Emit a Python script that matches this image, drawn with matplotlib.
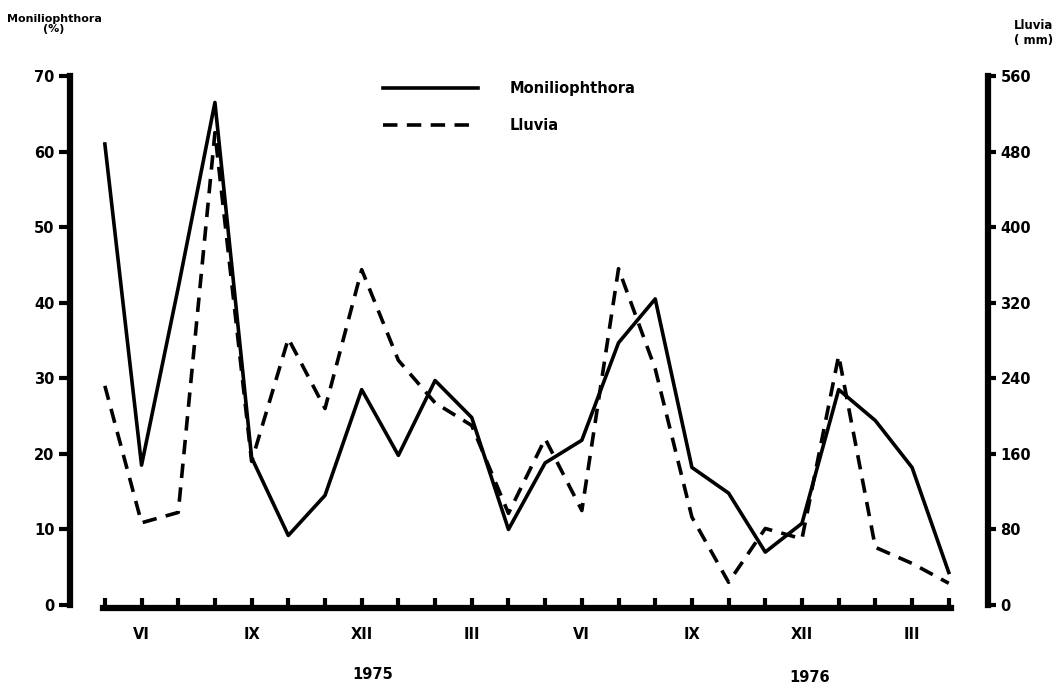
import numpy as np
import matplotlib
matplotlib.use('Agg')
import matplotlib.pyplot as plt

# monthly values, May 1975 .. April 1977
months = np.arange(24)
moniliophthora = [61, 18.5, 42, 66.5, 19.5, 9.2, 14.5, 28.5, 19.8, 29.7, 24.8, 10.0,
                  18.8, 21.8, 34.7, 40.5, 18.2, 14.8, 7.0, 10.8, 28.5, 24.4, 18.2, 4.3]
lluvia = [232, 87, 98, 500, 152, 282, 208, 355, 259, 214, 190, 97,
          176, 100, 356, 250, 93, 24, 81, 70, 264, 61, 44, 23]

month_labels = ['', 'VI', '', '', 'IX', '', '', 'XII', '', '', 'III', '',
                '', 'VI', '', '', 'IX', '', '', 'XII', '', '', 'III', '']
left_ticks = [0, 10, 20, 30, 40, 50, 60, 70]
right_ticks = [0, 80, 160, 240, 320, 400, 480, 560]

W, H = 1060, 688
fig = plt.figure(figsize=(W / 100, H / 100), dpi=100)
ax = fig.add_axes([70 / W, 80 / H, (988 - 70) / W, (608 - 76) / H])
ax.set_xlim(-0.95, 24.07)
ax.set_ylim(-0.4, 70)

lw = 2.6
ax.plot(months, moniliophthora, color='black', lw=lw, label='Moniliophthora')
ax2 = ax.twinx()
ax2.set_ylim(-0.4 * 8, 560)
ax2.plot(months, lluvia, color='black', lw=lw, dashes=(4, 2.6), label='Lluvia')

for s in ['top', 'right']:
    ax.spines[s].set_visible(False)
for s in ['top', 'left', 'bottom']:
    ax2.spines[s].set_visible(False)

ax.spines['left'].set_linewidth(4.5)
ax.spines['left'].set_bounds(0, 70)
ax.spines['bottom'].set_linewidth(4.5)
ax.spines['bottom'].set_bounds(-0.05, 23.05)
ax2.spines['right'].set_linewidth(4.5)
ax2.spines['right'].set_bounds(0, 560)

tick_font = dict(fontsize=10.5, fontweight='bold')
ax.set_yticks(left_ticks)
ax.set_yticklabels([str(t) for t in left_ticks], **tick_font)
ax.tick_params(axis='y', direction='out', length=8, width=3, pad=3)
ax2.set_yticks(right_ticks)
ax2.set_yticklabels([str(t) for t in right_ticks], **tick_font)
ax2.tick_params(axis='y', direction='out', length=6, width=3, pad=3)

ax.set_xticks(months)
ax.set_xticklabels(month_labels, **tick_font)
ax.tick_params(axis='x', direction='in', length=7, width=3, pad=14)

ax.text(7.3, -0.125, '1975', transform=ax.get_xaxis_transform(),
        ha='center', va='center', **tick_font)
ax.text(19.2, -0.13, '1976', transform=ax.get_xaxis_transform(),
        ha='center', va='center', **tick_font)

fig.text(54 / W, 1 - 24 / H, 'Moniliophthora\n(%)', ha='center', va='center',
         fontsize=8, fontweight='bold', linespacing=1.05)
fig.text(1034 / W, 1 - 33 / H, 'Lluvia\n( mm)', ha='center', va='center',
         fontsize=8.5, fontweight='bold', linespacing=1.15)

h1, l1 = ax.get_legend_handles_labels()
h2, l2 = ax2.get_legend_handles_labels()
ax.legend(h1 + h2, l1 + l2, loc='upper left', bbox_to_anchor=(370 / W, 1 - 68 / H),
          bbox_transform=fig.transFigure, frameon=False, handlelength=6.5,
          handletextpad=2.2, labelspacing=1.5, prop=dict(size=10.5, weight='bold'))

fig.savefig('out.png', dpi=100)
